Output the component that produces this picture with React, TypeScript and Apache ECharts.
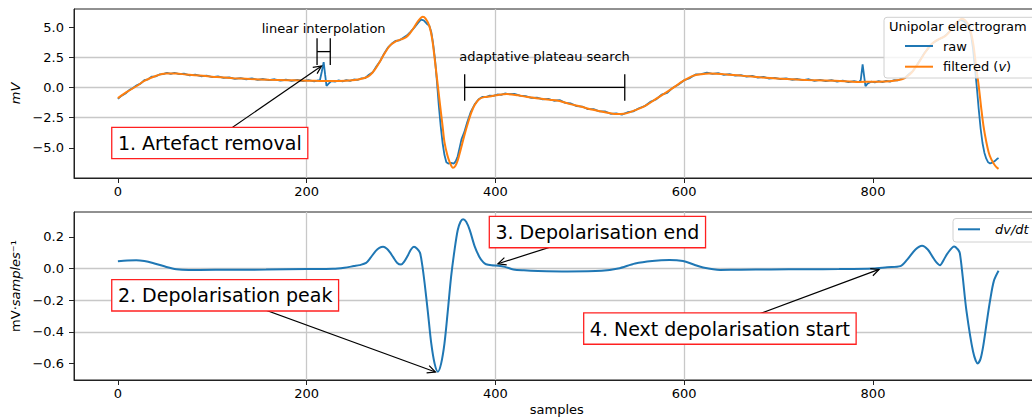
import React, { useEffect, useRef } from "react";
import * as echarts from "echarts";

// ---------- data ----------
const xTicks = [0, 200, 400, 600, 800];
const vTicks = [-5, -2.5, 0, 2.5, 5];
const dTicks = [-0.6, -0.4, -0.2, 0, 0.2];
const legendTitle = "Unipolar electrogram";

const filtered: [number, number][] = [
  [0, -0.88], [10, -0.35], [20, 0.12], [28, 0.54], [40, 0.95], [51, 1.15], [62, 1.15], [72, 1.07],
  [90, 0.97], [105, 0.86], [122, 0.77], [140, 0.7], [160, 0.64], [180, 0.6], [193, 0.58], [210, 0.55],
  [225, 0.53], [235, 0.54], [245, 0.58], [256, 0.68], [262, 0.8], [267, 1.01], [272, 1.45], [277, 2.06],
  [282, 2.75], [288, 3.45], [294, 3.8], [300, 3.98], [305, 4.15], [309, 4.45], [314, 5.0], [318, 5.49],
  [323, 5.85], [326, 5.7], [330, 5.08], [333, 4.0], [335.7, 2.33], [338, 0.8], [341, -1.24], [344, -3.2],
  [346, -4.53], [349, -5.6], [351.5, -6.18], [355, -6.65], [357.5, -6.5], [360, -6.05], [363, -5.2],
  [367, -3.99], [371, -2.9], [374.5, -2.06], [378, -1.45], [383, -0.96], [388, -0.8], [394, -0.74],
  [403, -0.62], [412, -0.55], [424, -0.65], [436, -0.82], [447, -0.92], [457.5, -1.02], [468, -1.12],
  [479, -1.38], [490, -1.58], [503.5, -1.85], [516, -2.05], [528, -2.2], [536, -2.18], [542, -2.06],
  [551, -1.8], [560, -1.46], [570, -0.95], [581, -0.41], [590, 0.07], [599, 0.54], [609, 0.96],
  [618, 1.1], [627, 1.15], [645, 1.08], [662, 0.96], [680, 0.84], [698, 0.74], [714, 0.68], [730, 0.62],
  [749, 0.58], [770, 0.52], [785, 0.46], [800, 0.47], [813, 0.49], [822, 0.55], [830.6, 0.68], [836, 0.9],
  [841, 1.24], [848, 2.0], [855, 2.88], [861, 3.5], [866, 3.84], [871, 4.05], [876.5, 4.25], [882, 4.7],
  [887, 5.22], [891, 5.55], [894, 5.69], [897, 5.6], [901, 5.22], [904, 4.5], [906.6, 3.43], [909, 1.9],
  [912, 0.13], [914.5, -1.6], [917, -3.17], [920, -4.5], [922.5, -5.36], [925, -5.9], [928, -6.32],
  [930.5, -6.58], [933, -6.74],
];

const raw: [number, number][] = [
  [0, -0.95], [4, -0.68], [8, -0.5], [12, -0.22], [16, -0.05], [20, 0.18], [24, 0.32], [28, 0.6], [32, 0.68],
  [36, 0.9], [40, 0.92], [44, 1.08], [48, 1.1], [52, 1.22], [56, 1.12], [60, 1.22], [65, 1.1], [70, 1.15],
  [76, 1.0], [82, 1.06], [88, 0.93], [94, 0.98], [100, 0.86], [106, 0.92], [112, 0.8], [118, 0.84],
  [124, 0.72], [130, 0.78], [136, 0.68], [142, 0.76], [148, 0.63], [154, 0.7], [160, 0.6], [166, 0.68],
  [172, 0.56], [178, 0.64], [184, 0.55], [190, 0.62], [196, 0.52], [202, 0.6], [208, 0.5], [212, 0.58],
  [214, 0.6], [216, 1.3], [218, 2.1], [219.5, 1.1], [221, 0.12], [223, 0.3], [226, 0.52], [230, 0.48],
  [234, 0.58], [238, 0.5], [242, 0.6], [246, 0.55], [250, 0.66], [254, 0.62], [258, 0.76], [262, 0.78],
  [266, 1.05], [270, 1.25], [274, 1.75], [278, 2.2], [282, 2.8], [286, 3.3], [290, 3.62], [294, 3.85],
  [298, 3.9], [302, 4.1], [306, 4.3], [310, 4.6], [314, 4.95], [318, 5.35], [321, 5.62], [324, 5.55],
  [327, 5.3], [330, 5.1], [332, 4.6], [334, 3.6], [336, 2.3], [338, 0.5], [340, -1.5], [342, -3.2],
  [344, -4.6], [346, -5.6], [348, -6.2], [350, -6.3], [353, -6.25], [356, -6.3], [358, -6.1], [360, -5.7],
  [362, -5.0], [364, -4.3], [367, -3.7], [370, -2.9], [374, -2.0], [378, -1.4], [382, -1.0], [386, -0.78],
  [390, -0.8], [394, -0.68], [398, -0.7], [402, -0.58], [406, -0.62], [410, -0.5], [414, -0.56],
  [420, -0.54], [426, -0.68], [432, -0.72], [438, -0.86], [444, -0.85], [450, -0.98], [456, -0.95],
  [462, -1.1], [468, -1.05], [474, -1.28], [480, -1.33], [486, -1.55], [492, -1.58], [498, -1.8],
  [504, -1.8], [510, -1.98], [516, -1.98], [522, -2.18], [528, -2.15], [534, -2.25], [540, -2.05],
  [546, -1.98], [552, -1.72], [558, -1.55], [564, -1.2], [570, -1.0], [576, -0.6], [582, -0.45],
  [588, -0.02], [594, 0.25], [600, 0.6], [606, 0.78], [612, 1.08], [618, 1.1], [624, 1.22], [630, 1.12],
  [636, 1.18], [642, 1.05], [648, 1.1], [654, 0.98], [660, 1.02], [666, 0.9], [672, 0.96], [678, 0.82],
  [684, 0.88], [690, 0.74], [696, 0.8], [702, 0.7], [708, 0.76], [714, 0.64], [720, 0.7], [726, 0.6],
  [732, 0.68], [738, 0.55], [744, 0.63], [750, 0.52], [756, 0.6], [762, 0.48], [768, 0.56], [774, 0.45],
  [780, 0.52], [785, 0.44], [787, 0.6], [789, 1.92], [790.5, 1.0], [792, 0.1], [794, 0.3], [798, 0.48],
  [802, 0.42], [806, 0.52], [810, 0.44], [814, 0.54], [818, 0.48], [822, 0.6], [826, 0.58], [830, 0.72],
  [834, 0.82], [838, 1.1], [842, 1.35], [846, 1.8], [850, 2.3], [854, 2.8], [858, 3.2], [862, 3.6],
  [866, 3.8], [870, 4.0], [874, 4.15], [878, 4.4], [882, 4.7], [886, 5.1], [890, 5.45], [893, 5.6],
  [896, 5.5], [899, 5.3], [902, 4.9], [904, 4.3], [906, 3.2], [908, 1.6], [910, 0.0], [912, -1.8],
  [914, -3.4], [916, -4.6], [918, -5.4], [920, -5.9], [922, -6.2], [924, -6.3], [927, -6.2], [929, -6.1],
  [931, -5.95], [933, -5.85],
];

const dvdt: [number, number][] = [
  [0, 0.046], [10, 0.05], [19.5, 0.052], [28, 0.047], [37, 0.035], [50, 0.012], [62, -0.005], [75, -0.01],
  [86.6, -0.009], [120, -0.008], [157, -0.007], [200, -0.004], [228, -0.002], [240, 0.005], [250, 0.015],
  [256, 0.021], [263, 0.035], [268, 0.07], [273, 0.11], [277, 0.13], [281, 0.137], [285, 0.125],
  [288.5, 0.1], [291.5, 0.073], [296, 0.035], [300, 0.025], [303.5, 0.045], [307, 0.08], [310.5, 0.12],
  [313.7, 0.137], [317, 0.125], [320, 0.1], [322.5, 0.02], [325, -0.095], [328.5, -0.28], [332, -0.474],
  [335.5, -0.6], [339, -0.653], [342.5, -0.6], [346, -0.474], [349.5, -0.27], [353, -0.053], [356.5, 0.11],
  [360, 0.242], [363, 0.295], [365.7, 0.311], [369, 0.295], [372.8, 0.242], [378, 0.14], [383, 0.073],
  [387, 0.04], [390, 0.027], [396, 0.02], [403, 0.017], [410, 0.01], [419, -0.006], [430, -0.012],
  [445, -0.016], [476.5, -0.019], [512.5, -0.015], [530, 0.0], [548, 0.032], [566, 0.048], [584.4, 0.054],
  [598.7, 0.047], [610, 0.025], [620, 0.006], [638, -0.009], [660, -0.008], [692, -0.006], [730, -0.005],
  [764, -0.004], [800, 0.0], [815, 0.008], [829, 0.015], [836, 0.054], [845, 0.12], [852, 0.144],
  [858, 0.12], [863, 0.075], [867, 0.04], [871, 0.021], [875, 0.055], [879, 0.096], [886, 0.139],
  [890, 0.12], [892, 0.096], [895, -0.05], [899, -0.268], [906, -0.525], [911, -0.6], [914, -0.57],
  [917, -0.482], [920.5, -0.34], [924, -0.204], [928, -0.08], [933, -0.015],
];

// annotations (data coordinates): text left edge / vertical centre, arrow target
const boxNotes = [
  { text: "1. Artefact removal", grid: 0, at: [0, -4.6], target: [218, 1.9] },
  { text: "2. Depolarisation peak", grid: 1, at: [0, -0.17], target: [339, -0.66] },
  { text: "3. Depolarisation end", grid: 1, at: [400, 0.23], target: [400, 0.025] },
  { text: "4. Next depolarisation start", grid: 1, at: [500, -0.38], target: [809, 0] },
];
const brackets = [
  { text: "linear interpolation", from: [211, 2.97], to: [225, 2.97], label: [218, 4.86] },
  { text: "adaptative plateau search", from: [367.4, 0], to: [537, 0], label: [452, 2.6] },
];

// ---------- styles ----------
const FONT = "DejaVu Sans";
const BLUE = "#1f77b4";
const ORANGE = "#ff7f0e";
const SPINE = "#222";
const GRIDC = "#c8c8c8";
const LEGEND_BG = "rgba(255,255,255,0.8)";
const LEGEND_BORDER = "#d0d0d0";

const fmt = (v: number) => v.toFixed(1).replace("-", "\u2212");

function measure(text: string, font: string) {
  const c = document.createElement("canvas").getContext("2d");
  if (!c) return text.length * 10;
  c.font = font;
  return c.measureText(text).width;
}

function xAxisOpt(gridIndex: number, withName: boolean) {
  return {
    type: "value",
    gridIndex,
    min: -46.5,
    max: 976.5,
    name: withName ? "samples" : "",
    nameLocation: "middle",
    nameGap: 23,
    nameTextStyle: { fontSize: 13, color: "#000", fontFamily: FONT },
    axisLine: { show: true, onZero: false, lineStyle: { color: SPINE, width: 1 } },
    axisTick: { show: true, length: 5, customValues: xTicks, lineStyle: { color: SPINE, width: 1 } },
    axisLabel: {
      customValues: xTicks,
      margin: 7,
      fontSize: 13,
      color: "#000",
      fontFamily: FONT,
      formatter: (v: number) => (xTicks.includes(Math.round(v)) && Math.abs(v - Math.round(v)) < 1e-6 ? String(Math.round(v)) : ""),
    },
    splitLine: { show: true, showMinLine: false, showMaxLine: false, lineStyle: { color: GRIDC, width: 1.3 } },
  };
}

function yAxisBase(gridIndex: number, ticks: number[]) {
  return {
    type: "value",
    gridIndex,
    nameLocation: "middle",
    nameRotate: 90,
    nameGap: 47,
    axisLine: { show: true, onZero: false, lineStyle: { color: SPINE, width: 1 } },
    axisTick: { show: true, length: 5, customValues: ticks, lineStyle: { color: SPINE, width: 1 } },
    axisLabel: {
      customValues: ticks,
      margin: 10,
      fontSize: 13,
      color: "#000",
      fontFamily: FONT,
      formatter: (v: number) => (ticks.some((t) => Math.abs(t - v) < 1e-6) ? fmt(v) : ""),
    },
    splitLine: { show: true, showMinLine: false, showMaxLine: false, lineStyle: { color: GRIDC, width: 1.3 } },
  };
}

const legendText = {
  fontSize: 13,
  lineHeight: 14,
  color: "#000",
  fontFamily: FONT,
};

export default function App() {
  const ref = useRef<HTMLDivElement>(null);

  useEffect(() => {
    if (!ref.current) return;
    const chart = echarts.init(ref.current, undefined, { renderer: "svg" });

    const gridBase = {
      left: 74,
      width: 965.6,
      show: true,
      borderColor: SPINE,
      borderWidth: 1,
      backgroundColor: "transparent",
      containLabel: false,
      outerBoundsMode: "none",
    };

    const option: any = {
      animation: false,
      textStyle: { fontFamily: FONT },
      color: [BLUE, ORANGE, BLUE],
      grid: [
        { ...gridBase, top: 9, height: 169 },
        { ...gridBase, top: 212, height: 168 },
      ],
      xAxis: [xAxisOpt(0, false), xAxisOpt(1, true)],
      yAxis: [
        {
          ...yAxisBase(0, vTicks),
          min: -7.5,
          max: 6.5,
          interval: 2.5,
          name: "mV",
          nameTextStyle: { fontSize: 13, fontStyle: "italic", color: "#000", fontFamily: FONT },
        },
        {
          ...yAxisBase(1, dTicks),
          min: -0.705,
          max: 0.357,
          name: "{a|mV·}{b|samples}{a|\u207B\u00B9}",
          nameTextStyle: {
            fontSize: 13,
            color: "#000",
            fontFamily: FONT,
            padding: [0, 0, 0, 20],
            rich: {
              a: { fontSize: 13, color: "#000", fontFamily: FONT },
              b: { fontSize: 13, color: "#000", fontFamily: FONT, fontStyle: "italic" },
            },
          },
        },
      ],
      legend: [
        // frame + title of the upper legend
        {
          data: [{ name: legendTitle, icon: "none" }],
          left: 884,
          top: 17.3,
          padding: [2.4, 40, 44.3, 0],
          itemWidth: 0,
          itemHeight: 2,
          selectedMode: false,
          backgroundColor: LEGEND_BG,
          borderColor: LEGEND_BORDER,
          borderWidth: 1,
          borderRadius: 3,
          z: 19,
          textStyle: legendText,
        },
        {
          data: ["raw", "filtered"],
          orient: "vertical",
          left: 905,
          top: 39,
          padding: 0,
          icon: "rect",
          itemWidth: 28,
          itemHeight: 2,
          itemGap: 6.7,
          selectedMode: false,
          z: 20,
          formatter: (n: string) => (n === "filtered" ? "filtered ({i|v})" : n),
          textStyle: {
            ...legendText,
            padding: [0, 0, 0, 5],
            rich: { i: { fontSize: 13, fontStyle: "italic", color: "#000", fontFamily: FONT } },
          },
        },
        {
          data: ["dvdt"],
          orient: "vertical",
          left: 953,
          top: 218.5,
          padding: [3.8, 30, 5.7, 5],
          icon: "rect",
          itemWidth: 22,
          itemHeight: 2,
          selectedMode: false,
          backgroundColor: LEGEND_BG,
          borderColor: LEGEND_BORDER,
          borderWidth: 1,
          borderRadius: 3,
          z: 20,
          formatter: () => "{i|dv/dt}",
          textStyle: {
            ...legendText,
            padding: [0, 0, 0, 10],
            rich: { i: { fontSize: 13, fontStyle: "italic", color: "#000", fontFamily: FONT } },
          },
        },
      ],
      series: [
        {
          name: "raw",
          type: "line",
          xAxisIndex: 0,
          yAxisIndex: 0,
          data: raw,
          symbol: "none",
          itemStyle: { color: BLUE },
          lineStyle: { color: BLUE, width: 1.8 },
          z: 2,
        },
        {
          name: "filtered",
          type: "line",
          xAxisIndex: 0,
          yAxisIndex: 0,
          data: filtered,
          symbol: "none",
          smooth: 0.3,
          itemStyle: { color: ORANGE },
          lineStyle: { color: ORANGE, width: 2 },
          z: 3,
        },
        {
          name: legendTitle,
          type: "line",
          xAxisIndex: 0,
          yAxisIndex: 0,
          data: [],
          symbol: "none",
          itemStyle: { color: "transparent" },
          lineStyle: { width: 0 },
        },
        {
          name: "dvdt",
          type: "line",
          xAxisIndex: 1,
          yAxisIndex: 1,
          data: dvdt,
          symbol: "none",
          smooth: 0.3,
          itemStyle: { color: BLUE },
          lineStyle: { color: BLUE, width: 2 },
          z: 3,
        },
      ],
    };

    chart.setOption(option);

    // ---------- annotations (computed from data coordinates) ----------
    const toPx = (g: number, p: number[]) => chart.convertToPixel({ gridIndex: g } as any, p) as number[];
    const graphics: any[] = [];
    const black = "#000";

    const arrow = (s: number[], t: number[]) => {
      const dx = t[0] - s[0];
      const dy = t[1] - s[1];
      const L = Math.hypot(dx, dy) || 1;
      const ux = dx / L;
      const uy = dy / L;
      const ex = t[0] - ux * 2.6;
      const ey = t[1] - uy * 2.6;
      const hl = 8;
      const hw = 3.8;
      const bx = ex - ux * hl;
      const by = ey - uy * hl;
      graphics.push({ type: "line", z: 15, silent: true, shape: { x1: s[0], y1: s[1], x2: ex, y2: ey }, style: { stroke: black, lineWidth: 1.2 } });
      graphics.push({
        type: "polyline",
        z: 15,
        silent: true,
        shape: { points: [[bx - uy * hw, by + ux * hw], [ex, ey], [bx + uy * hw, by - ux * hw]] },
        style: { stroke: black, lineWidth: 1.2, fill: null },
      });
    };

    const BIG = `19px "${FONT}"`;
    const PADH = 5.5;
    const PADV = 5.5;
    boxNotes.forEach((n) => {
      const a = toPx(n.grid, n.at);
      const t = toPx(n.grid, n.target);
      const w = measure(n.text, BIG);
      const center = [a[0] + w / 2, a[1]];
      arrow(center, t);
      graphics.push({
        type: "text",
        z: 16,
        silent: true,
        x: a[0] - PADH,
        y: a[1],
        style: {
          text: n.text,
          font: BIG,
          fill: "#000",
          align: "left",
          verticalAlign: "middle",
          backgroundColor: "#fff",
          borderColor: "#ff2020",
          borderWidth: 1.3,
          padding: [PADV, PADH, PADV, PADH],
        },
      });
    });

    const HALF = 13.3;
    brackets.forEach((b) => {
      const p1 = toPx(0, b.from);
      const p2 = toPx(0, b.to);
      const lp = toPx(0, b.label);
      const st = { stroke: black, lineWidth: 1.3 };
      graphics.push({ type: "line", z: 15, silent: true, shape: { x1: p1[0], y1: p1[1], x2: p2[0], y2: p2[1] }, style: st });
      graphics.push({ type: "line", z: 15, silent: true, shape: { x1: p1[0], y1: p1[1] - HALF, x2: p1[0], y2: p1[1] + HALF }, style: st });
      graphics.push({ type: "line", z: 15, silent: true, shape: { x1: p2[0], y1: p2[1] - HALF, x2: p2[0], y2: p2[1] + HALF }, style: st });
      graphics.push({
        type: "text",
        z: 15,
        silent: true,
        x: lp[0],
        y: lp[1],
        style: { text: b.text, font: `13px "${FONT}"`, fill: "#000", align: "center", verticalAlign: "middle" },
      });
    });

    chart.setOption({ graphic: graphics });

    return () => chart.dispose();
  }, []);

  return (
    <div
      ref={ref}
      style={{ position: "fixed", left: 0, top: 0, width: 1040, height: 418, background: "#fff" }}
    />
  );
}
